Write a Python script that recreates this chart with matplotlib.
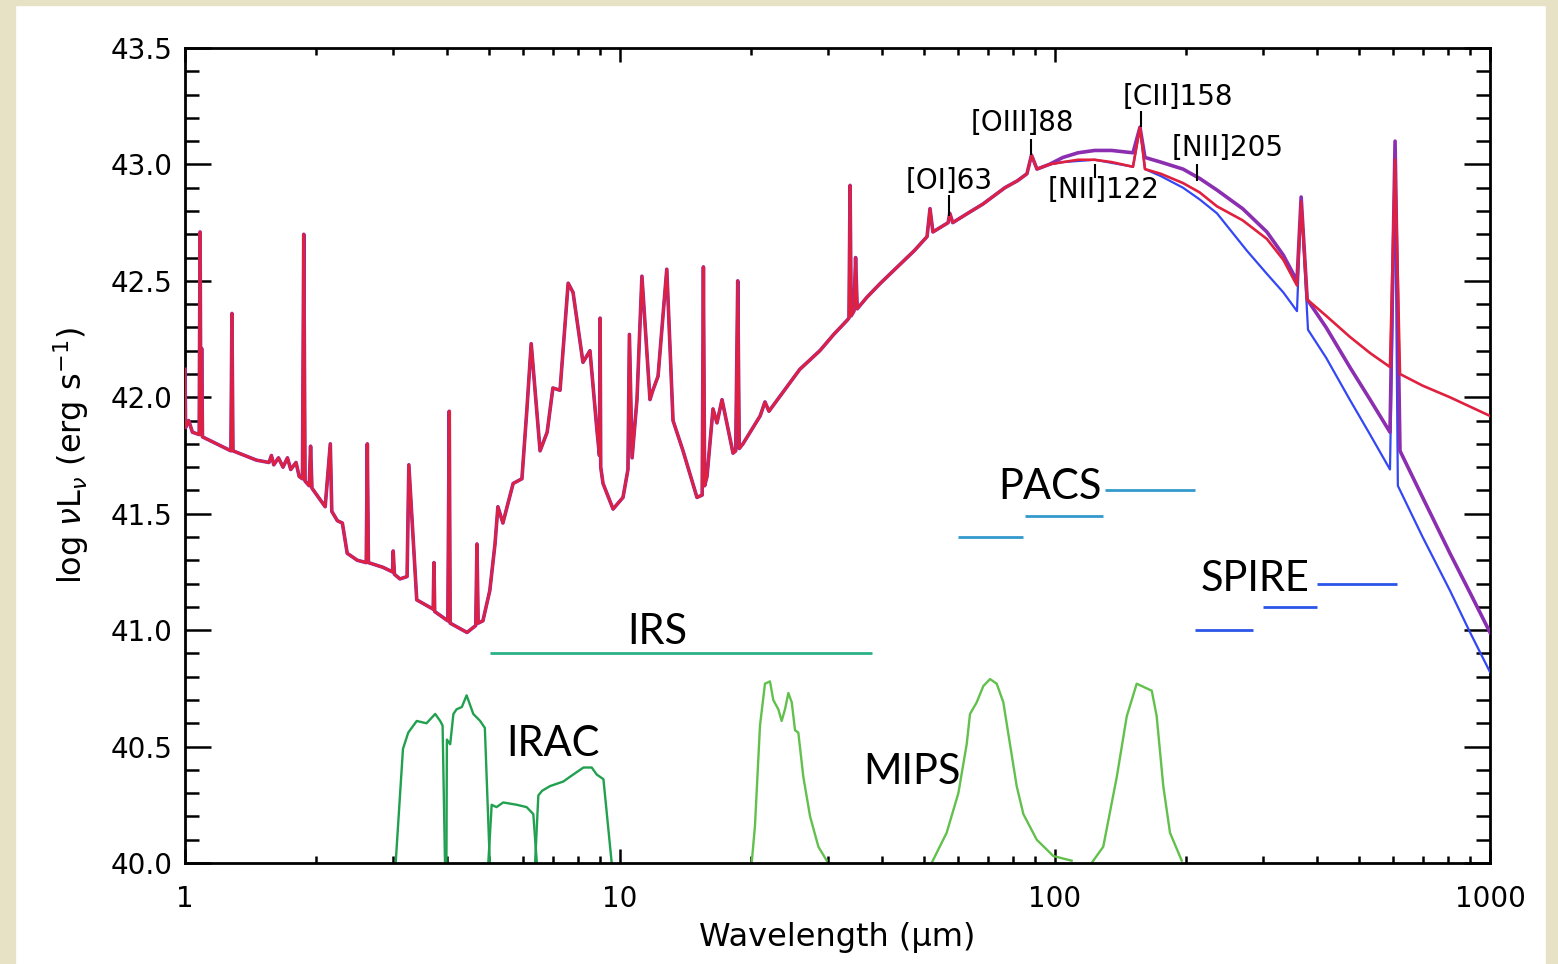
import numpy as np
import matplotlib.pyplot as plt
from matplotlib.ticker import FixedLocator, NullFormatter

# =============================================================================
# SED model: shared short-wavelength part (microns, log nuL_nu)
# =============================================================================
sed_wl = [1.000, 1.003, 1.02, 1.04, 1.078, 1.083, 1.088, 1.092, 1.097,
          1.275, 1.282, 1.289, 1.46, 1.56, 1.58, 1.60, 1.64, 1.68, 1.72,
          1.75, 1.80, 1.83, 1.862, 1.875, 1.888, 1.93, 1.944, 1.958,
          2.10, 2.158, 2.175, 2.24, 2.30, 2.36, 2.49, 2.61, 2.625, 2.64,
          2.85, 3.00, 3.01, 3.03, 3.12, 3.24, 3.27, 3.32, 3.41, 3.72,
          3.735, 3.75, 4.02, 4.05, 4.07, 4.45, 4.66, 4.69, 4.72, 4.84,
          5.02, 5.16, 5.24, 5.38, 5.68, 5.95, 6.11, 6.25, 6.55, 6.80,
          7.01, 7.28, 7.60, 7.80, 8.22, 8.53, 8.85, 8.97, 9.00, 9.03,
          9.14, 9.64, 10.16, 10.43, 10.51, 10.66, 10.94, 11.23, 11.72,
          11.90, 12.23, 12.81, 13.24, 13.96, 15.03, 15.45, 15.55, 15.65,
          15.85, 16.36, 16.71, 17.16, 18.19, 18.45, 18.65, 18.80, 19.17,
          21.0, 21.54, 22.0, 25.9, 28.8, 31.0, 33.25, 33.6, 33.8, 34.0,
          34.5, 34.8, 35.1, 36.97, 39.7, 44.0, 47.5, 50.8, 51.6, 52.4,
          56.8, 57.3, 58.2, 63.0, 68.3, 76.7, 82.0, 86.2, 88.3, 90.9, 97.0]
sed_val = [42.12, 41.87, 41.90, 41.85, 41.84, 42.71, 41.84, 42.21, 41.83,
           41.77, 42.36, 41.77, 41.73, 41.72, 41.75, 41.71, 41.74, 41.70, 41.74,
           41.69, 41.72, 41.66, 41.65, 42.70, 41.64, 41.62, 41.79, 41.61,
           41.53, 41.80, 41.51, 41.47, 41.46, 41.33, 41.30, 41.29, 41.80, 41.29,
           41.27, 41.25, 41.34, 41.24, 41.22, 41.23, 41.71, 41.50, 41.13, 41.09,
           41.29, 41.08, 41.04, 41.94, 41.03, 40.99, 41.02, 41.37, 41.03, 41.04,
           41.17, 41.37, 41.53, 41.46, 41.63, 41.65, 41.95, 42.23, 41.77, 41.85,
           42.04, 42.03, 42.49, 42.45, 42.15, 42.20, 41.86, 41.75, 42.34, 41.70,
           41.63, 41.52, 41.57, 41.69, 42.27, 41.74, 41.99, 42.52, 41.99,
           42.03, 42.09, 42.55, 41.90, 41.77, 41.57, 41.58, 42.56, 41.62,
           41.66, 41.95, 41.89, 41.99, 41.76, 41.77, 42.50, 41.78, 41.80,
           41.92, 41.98, 41.94, 42.12, 42.20, 42.27, 42.33, 42.34, 42.91, 42.35,
           42.37, 42.60, 42.38, 42.43, 42.49, 42.57, 42.63, 42.69, 42.81, 42.71,
           42.75, 42.79, 42.75, 42.79, 42.83, 42.90, 42.93, 42.96, 43.04, 42.98, 43.00]

# far-IR / submm tails of the three models
red_tail_wl = [104.3, 113, 123.4, 135, 151.1, 156.8, 161, 175, 196.9, 215,
               235.7, 270, 307, 335, 360, 368, 380, 420, 476, 530, 589, 605,
               621, 700, 809, 900, 1000]
red_tail = [43.01, 43.02, 43.02, 43.01, 42.99, 43.16, 42.98, 42.96, 42.92, 42.88,
            42.82, 42.76, 42.68, 42.59, 42.48, 42.84, 42.42, 42.35, 42.26, 42.19,
            42.13, 43.02, 42.10, 42.05, 42.00, 41.96, 41.92]

purple_tail_wl = [104.3, 113, 123.4, 135, 151.1, 156.8, 161, 175, 196.9, 215,
                  235.7, 270, 307, 335, 360, 368, 380, 420, 476, 530, 589, 605,
                  621, 700, 809, 900, 1000]
purple_tail = [43.03, 43.05, 43.06, 43.06, 43.05, 43.16, 43.03, 43.01, 42.98, 42.94,
               42.89, 42.81, 42.71, 42.61, 42.50, 42.86, 42.42, 42.30, 42.13, 41.99,
               41.85, 43.10, 41.77, 41.57, 41.33, 41.16, 40.99]

blue_tail_wl = [104.3, 123.4, 151.1, 156.8, 161, 175, 196.9, 215, 235.7, 276,
                307, 335, 360, 368, 381.6, 420, 476, 530, 589, 605, 614, 700,
                809, 900, 1000]
blue_tail = [43.01, 43.02, 42.99, 43.16, 42.98, 42.95, 42.90, 42.85, 42.79, 42.63,
             42.53, 42.45, 42.37, 42.84, 42.29, 42.17, 41.99, 41.84, 41.69, 43.00,
             41.62, 41.40, 41.17, 40.99, 40.82]

# =============================================================================
# Filter transmission curves (plotted in data units)
# =============================================================================
irac1_wl = [3.05, 3.17, 3.26, 3.41, 3.59, 3.76, 3.86, 3.91, 3.96]
irac1 = [40.0, 40.49, 40.56, 40.61, 40.60, 40.64, 40.61, 40.59, 40.0]
irac2_wl = [3.99, 4.00, 4.07, 4.14, 4.21, 4.33, 4.44, 4.60, 4.77, 4.89, 5.02]
irac2 = [40.0, 40.53, 40.51, 40.64, 40.66, 40.67, 40.72, 40.64, 40.61, 40.58, 40.0]
irac3_wl = [4.98, 5.07, 5.20, 5.39, 5.79, 6.10, 6.32, 6.44]
irac3 = [40.0, 40.25, 40.24, 40.26, 40.25, 40.24, 40.21, 40.0]
irac4_wl = [6.38, 6.49, 6.62, 6.90, 7.41, 7.67, 8.24, 8.61, 8.84, 9.16, 9.57]
irac4 = [40.0, 40.29, 40.31, 40.33, 40.35, 40.37, 40.41, 40.41, 40.38, 40.36, 40.0]

mips24_wl = [20.08, 20.43, 20.98, 21.54, 22.12, 22.51, 23.12, 23.53, 23.95,
             24.38, 24.82, 25.26, 25.70, 26.39, 27.35, 28.58, 29.87]
mips24 = [40.0, 40.16, 40.59, 40.77, 40.78, 40.70, 40.66, 40.61, 40.66,
          40.73, 40.69, 40.57, 40.56, 40.37, 40.20, 40.07, 40.01]
mips70_wl = [52.05, 56.36, 59.96, 62.66, 63.77, 66.07, 68.43, 70.9, 73.45,
             76.07, 78.8, 81.65, 84.58, 90.78, 99.1, 109.2]
mips70 = [40.0, 40.13, 40.30, 40.51, 40.64, 40.69, 40.76, 40.79, 40.77,
          40.69, 40.51, 40.33, 40.21, 40.10, 40.03, 40.01]
mips160_wl = [121.4, 129.1, 138.7, 146.2, 154.1, 158.2, 162.5, 166.9, 171.3,
              177.4, 183.8, 195.6]
mips160 = [40.0, 40.07, 40.37, 40.63, 40.77, 40.76, 40.75, 40.74, 40.63,
           40.33, 40.13, 40.01]

# spectrograph coverage bars: (start, end, level)
irs_bar = [5.02, 38.0, 40.90]
pacs_start = [59.8, 85.3, 130.3]
pacs_end = [84.4, 128.9, 209.8]
pacs_level = [41.40, 41.49, 41.60]
spire_start = [209.8, 300.9, 400]
spire_end = [285, 400, 611]
spire_level = [41.00, 41.10, 41.20]

# fine-structure line markers
line_names = ["[OI]63", "[OIII]88", "[NII]122", "[CII]158", "[NII]205"]
line_wl = [57.0, 88.3, 123.4, 157.7, 212.0]
line_tick_lo = [42.78, 43.04, 42.94, 43.16, 42.93]
line_tick_hi = [42.87, 43.11, 43.00, 43.23, 43.00]
label_wl = [57.0, 84.0, 129.0, 192.0, 250.0]
label_val = [42.93, 43.18, 42.89, 43.29, 43.07]

# instrument labels
inst_names = ["IRS", "IRAC", "MIPS", "PACS", "SPIRE"]
inst_wl = [12.2, 7.0, 46.9, 97.4, 288.0]
inst_val = [40.99, 40.51, 40.39, 41.615, 41.22]

# =============================================================================
# PLOT
# =============================================================================
fig = plt.figure(figsize=(15.58, 9.64), dpi=100, facecolor="white")
beige = "#e7e1c6"
fig.patches.append(plt.Rectangle((0, 0), 15 / 1558, 1, transform=fig.transFigure,
                                 color=beige, zorder=-10))
fig.patches.append(plt.Rectangle((0, 1 - 5 / 964), 1, 5 / 964, transform=fig.transFigure,
                                 color=beige, zorder=-10))
fig.patches.append(plt.Rectangle((1 - 12 / 1558, 0), 12 / 1558, 1, transform=fig.transFigure,
                                 color=beige, zorder=-10))

ax = fig.add_axes([185 / 1558, 1 - 863 / 964, 1305 / 1558, 815 / 964])

c_red = "#e0203f"
c_purple = "#8b2fb0"
c_blue = "#3347f5"

ax.plot(sed_wl + blue_tail_wl, sed_val + blue_tail, color=c_blue, lw=1.6, zorder=3)
ax.plot(sed_wl + purple_tail_wl, sed_val + purple_tail, color=c_purple, lw=2.6, zorder=4)
ax.plot(sed_wl + red_tail_wl, sed_val + red_tail, color=c_red, lw=1.9, zorder=5)

c_irac = "#21a04f"
c_mips = "#62c04c"
for wl, tr in [(irac1_wl, irac1), (irac2_wl, irac2), (irac3_wl, irac3), (irac4_wl, irac4)]:
    ax.plot(wl, tr, color=c_irac, lw=1.7, zorder=2)
for wl, tr in [(mips24_wl, mips24), (mips70_wl, mips70), (mips160_wl, mips160)]:
    ax.plot(wl, tr, color=c_mips, lw=1.7, zorder=2)

ax.hlines(irs_bar[2], irs_bar[0], irs_bar[1], color="#2bb088", lw=2)
ax.hlines(pacs_level, pacs_start, pacs_end, color="#3399cc", lw=2)
ax.hlines(spire_level, spire_start, spire_end, color="#2a55e8", lw=2)

ax.vlines(line_wl, line_tick_lo, line_tick_hi, color="black", lw=1.5, zorder=6)
for name, x, y in zip(line_names, label_wl, label_val):
    ax.text(x, y, name, fontsize=20, ha="center", va="center")

for name, x, y in zip(inst_names, inst_wl, inst_val):
    ax.text(x, y, name, fontsize=30, ha="center", va="center", family="Lato")

ax.set_xscale("log")
ax.set_xlim(1, 1000)
ax.set_ylim(40.0, 43.5)

ax.xaxis.set_major_locator(FixedLocator([1, 10, 100, 1000]))
ax.set_xticklabels(["1", "10", "100", "1000"])
ax.xaxis.set_minor_locator(FixedLocator([m * d for d in [1, 10, 100] for m in range(2, 10)]))
ax.xaxis.set_minor_formatter(NullFormatter())
ax.set_yticks([40.0, 40.5, 41.0, 41.5, 42.0, 42.5, 43.0, 43.5])
ax.set_yticklabels(["40.0", "40.5", "41.0", "41.5", "42.0", "42.5", "43.0", "43.5"])
ax.set_yticks(np.arange(40.0, 43.51, 0.1), minor=True)

ax.tick_params(axis="both", which="both", direction="in", top=True, right=True,
               colors="black", labelsize=20, width=1.8)
ax.tick_params(axis="y", which="major", length=19, pad=9)
ax.tick_params(axis="y", which="minor", length=10)
ax.tick_params(axis="x", which="major", length=10, pad=16)
ax.tick_params(axis="x", which="minor", length=5)
for sp in ax.spines.values():
    sp.set_linewidth(2)

ax.set_xlabel("Wavelength (\u03bcm)", fontsize=23, labelpad=6)
ax.set_ylabel(r"log $\nu$L$_\nu$ (erg s$^{-1}$)", fontsize=23, labelpad=14)

fig.savefig("out.png", dpi=100, facecolor=fig.get_facecolor())
